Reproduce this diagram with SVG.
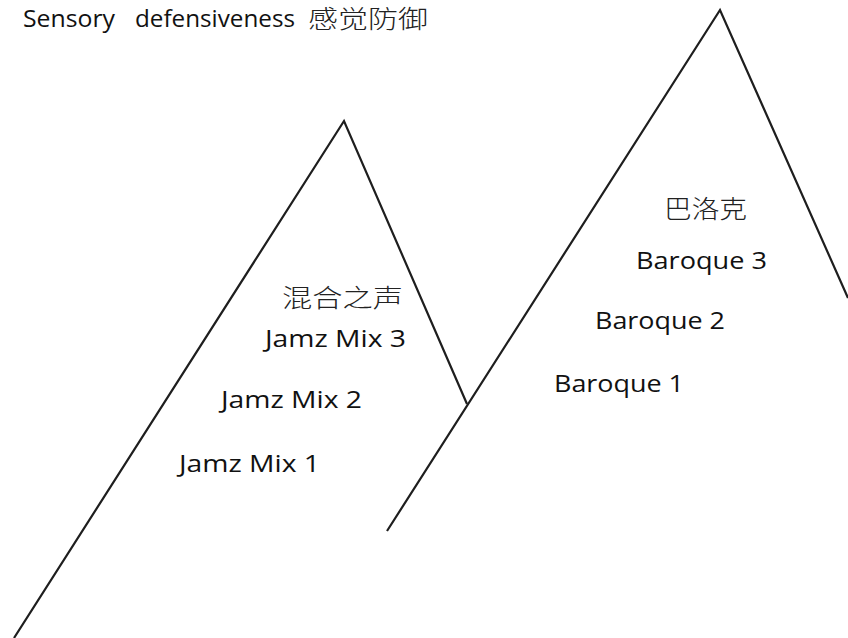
<svg xmlns="http://www.w3.org/2000/svg" width="848" height="638" viewBox="0 0 848 638">
  <style>
    .ridge { fill: none; stroke: #1e1e1e; stroke-width: 2.2; stroke-linejoin: miter; stroke-linecap: butt; }
    .lbl { font-family: "Open Sans", "Liberation Sans", sans-serif; font-size: 24px; fill: #111; }
    .cjk { font-family: "Noto Sans CJK SC", sans-serif; font-size: 25px; font-weight: 300; fill: #222; }
  </style>
  <rect width="848" height="638" fill="#ffffff"/>

  <!-- mountain outlines -->
  <g id="connectors">
    <polyline class="ridge" points="14,638 344,121 467,404"/>
    <polyline class="ridge" points="387,531 720,10 848,298"/>
  </g>

  <g id="title">
    <text class="lbl" x="23" y="27" textLength="92" lengthAdjust="spacingAndGlyphs">Sensory</text>
    <text class="lbl" x="135" y="27" textLength="160" lengthAdjust="spacingAndGlyphs">defensiveness</text>
    <text class="cjk" x="308" y="28" font-size="23" textLength="120" lengthAdjust="spacingAndGlyphs">感觉防御</text>
  </g>

  <g id="jamz">
    <text class="cjk" x="282" y="307" textLength="121" lengthAdjust="spacingAndGlyphs">混合之声</text>
    <text class="lbl" x="265" y="347" textLength="141" lengthAdjust="spacingAndGlyphs">Jamz Mix 3</text>
    <text class="lbl" x="221" y="408" textLength="141" lengthAdjust="spacingAndGlyphs">Jamz Mix 2</text>
    <text class="lbl" x="179" y="472" textLength="141" lengthAdjust="spacingAndGlyphs">Jamz Mix 1</text>
  </g>

  <g id="baroque">
    <text class="cjk" x="664" y="218" textLength="83" lengthAdjust="spacingAndGlyphs">巴洛克</text>
    <text class="lbl" x="636" y="269" textLength="131" lengthAdjust="spacingAndGlyphs">Baroque 3</text>
    <text class="lbl" x="595" y="329" textLength="130" lengthAdjust="spacingAndGlyphs">Baroque 2</text>
    <text class="lbl" x="554" y="392" textLength="130" lengthAdjust="spacingAndGlyphs">Baroque 1</text>
  </g>
</svg>
